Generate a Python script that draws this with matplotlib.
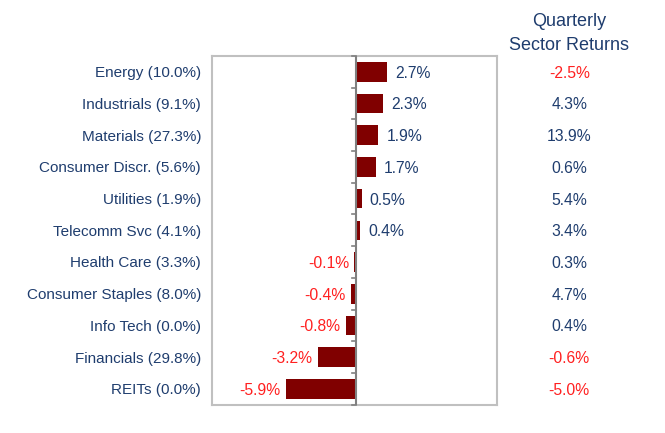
import matplotlib.pyplot as plt

plt.rcParams["font.family"] = ["Liberation Sans", "DejaVu Sans"]

# Data
sectors = ["Energy (10.0%)", "Industrials (9.1%)", "Materials (27.3%)",
           "Consumer Discr. (5.6%)", "Utilities (1.9%)", "Telecomm Svc (4.1%)",
           "Health Care (3.3%)", "Consumer Staples (8.0%)", "Info Tech (0.0%)",
           "Financials (29.8%)", "REITs (0.0%)"]
returns = [2.7, 2.3, 1.9, 1.7, 0.5, 0.4, -0.1, -0.4, -0.8, -3.2, -5.9]
quarterly = [-2.5, 4.3, 13.9, 0.6, 5.4, 3.4, 0.3, 4.7, 0.4, -0.6, -5.0]

blue = "#1f3d6e"
red = "#ff2020"
bar_color = "#800000"

fig = plt.figure(figsize=(6.65, 4.33), dpi=100)
ax = fig.add_axes([0.319, 0.065, 0.428, 0.806])

y = list(range(len(sectors)))
ax.barh(y, returns, height=0.62, color=bar_color, zorder=2)
ax.set_xlim(-12.2, 12.0)
ax.set_ylim(len(sectors) - 0.5, -0.5)

# zero line with small ticks at category boundaries
ax.axvline(0, color="#808080", lw=1.5, zorder=3)
for b in range(len(sectors) + 1):
    ax.plot([-0.35, 0], [b - 0.5, b - 0.5], color="#808080", lw=1.2, zorder=3,
            clip_on=False)

ax.set_xticks([])
ax.set_yticks([])
for s in ax.spines.values():
    s.set_color("#c0c0c0")
    s.set_linewidth(1.5)

# Sector labels on the left
for i, name in enumerate(sectors):
    ax.annotate(name, xy=(0, i), xycoords=("axes fraction", "data"),
                xytext=(-8, -1), textcoords="offset points",
                ha="right", va="center", fontsize=11, color=blue)

# Bar value labels
for i, v in enumerate(returns):
    if v >= 0:
        ax.annotate(f"{v:.1f}%", xy=(v, i), xytext=(6, -1), textcoords="offset points",
                    ha="left", va="center", fontsize=11.3, color=blue)
    else:
        ax.annotate(f"{v:.1f}%", xy=(v, i), xytext=(-4, -1), textcoords="offset points",
                    ha="right", va="center", fontsize=11.3, color=red)

# Quarterly sector returns column
fig.text(0.856, 0.951, "Quarterly", ha="center", va="center", fontsize=13, color=blue)
fig.text(0.856, 0.895, "Sector Returns", ha="center", va="center", fontsize=13, color=blue)
for i, q in enumerate(quarterly):
    ax.annotate(f"{q:.1f}%", xy=(0.856, i), xycoords=("figure fraction", "data"),
                xytext=(0, -1), textcoords="offset points",
                ha="center", va="center", fontsize=11.3,
                color=red if q < 0 else blue, annotation_clip=False)

fig.savefig("out.png", dpi=100)
